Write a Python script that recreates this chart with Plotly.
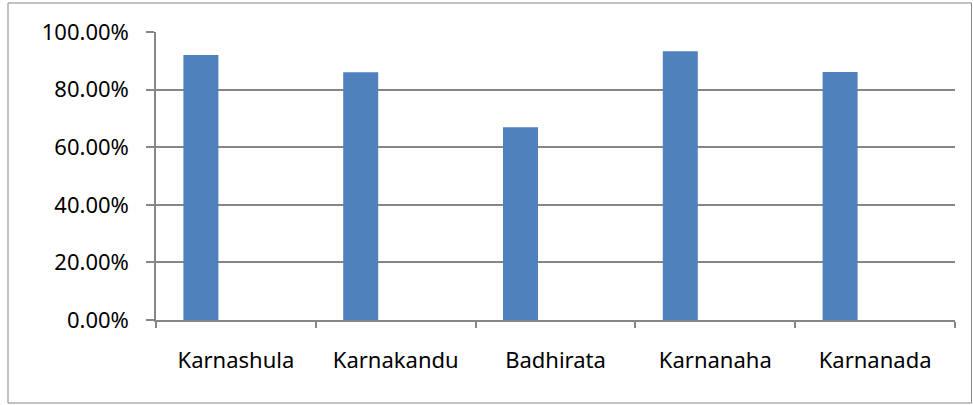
import plotly.graph_objects as go

categories = ["Karnashula", "Karnakandu", "Badhirata", "Karnanaha", "Karnanada"]
values = [0.920, 0.860, 0.669, 0.933, 0.861]
y_ticks = [0, 0.2, 0.4, 0.6, 0.8, 1.0]

GRID = "#868686"
FONT = dict(family="Noto Sans", size=22, color="#000000")

fig = go.Figure()
fig.add_trace(go.Bar(
    x=categories, y=values,
    marker=dict(color="#4F81BD", line=dict(width=0)),
    width=0.219, offset=-0.3285,
    showlegend=False, hoverinfo="x+y",
))

W, H = 973, 405
ml, mr, mt, mb = 156, 18, 32, 85
pw, ph = W - ml - mr, H - mt - mb

def px_x(p):
    return (p - ml) / pw

def px_y(p):
    return (H - mb - p) / ph

fig.update_layout(
    width=W, height=H,
    margin=dict(l=ml, r=mr, t=mt, b=mb, pad=0),
    paper_bgcolor="white", plot_bgcolor="white",
    font=FONT,
    xaxis=dict(
        type="category", range=[-0.5, 4.5],
        showline=True, linecolor=GRID, linewidth=1.5,
        ticks="outside", tickson="boundaries", ticklen=6, tickcolor=GRID, tickwidth=1.5,
        showgrid=False, ticklabelstandoff=20, tickfont=FONT,
    ),
    yaxis=dict(
        range=[0, 1], tickvals=y_ticks, tickformat=".2%",
        showline=True, linecolor=GRID, linewidth=1.5,
        ticks="outside", ticklen=8, tickcolor=GRID, tickwidth=1.5,
        showgrid=True, gridcolor=GRID, gridwidth=1.5,
        zeroline=False, ticklabelstandoff=13, tickfont=FONT,
    ),
    shapes=[dict(
        type="rect", xref="paper", yref="paper",
        x0=px_x(8), x1=px_x(971.5), y0=px_y(403), y1=px_y(3),
        line=dict(color=GRID, width=1), fillcolor="rgba(0,0,0,0)", layer="below",
    )],
)

fig.write_html(
    "out.html",
    config={"displayModeBar": False},
    post_script="document.body.style.margin='0';document.body.style.padding='0';document.body.style.overflow='hidden';",
)
